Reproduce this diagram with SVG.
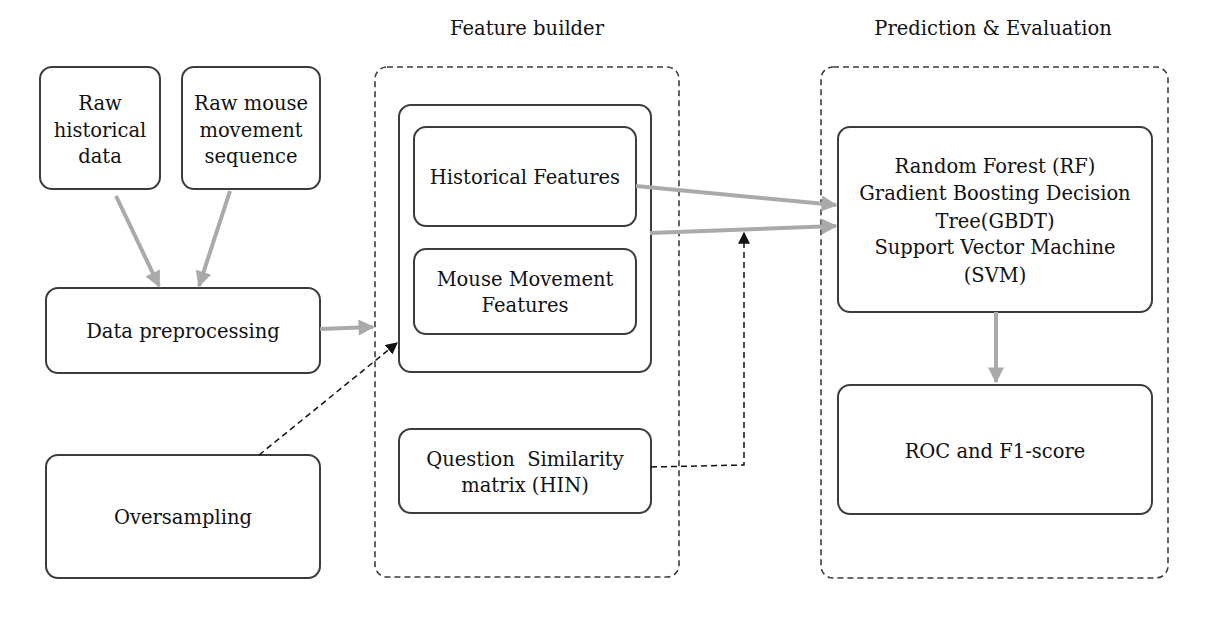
<svg xmlns="http://www.w3.org/2000/svg" width="1228" height="628" viewBox="0 0 1228 628">
<style>
.box{fill:#fff;stroke:#3c3c3c;stroke-width:2}
.grp{fill:none;stroke:#3c3c3c;stroke-width:1.6;stroke-dasharray:6,4}
text{font-family:"DejaVu Serif","Liberation Serif",serif;font-size:19.5px;fill:#111;text-anchor:middle}
.g{fill:none;stroke:#aaa;stroke-width:4}
.d{fill:none;stroke:#111;stroke-width:1.5;stroke-dasharray:6,4}
</style>
<defs>
<marker id="ga" viewBox="0 0 10 10" refX="9" refY="5" markerWidth="4.5" markerHeight="4" markerUnits="strokeWidth" orient="auto"><path d="M0,0 L10,5 L0,10 z" fill="#aaa"/></marker>
<marker id="ba" viewBox="0 0 10 10" refX="9" refY="5" markerWidth="8" markerHeight="8" markerUnits="strokeWidth" orient="auto"><path d="M0,0 L10,5 L0,10 z" fill="#111"/></marker>
</defs>
<rect width="1228" height="628" fill="#fff"/>
<g id="group-feature-builder">
<rect class="grp" x="375" y="67" width="304" height="510" rx="12"/>
<text x="527" y="35">Feature builder</text>
</g>
<g id="group-prediction">
<rect class="grp" x="821" y="67" width="347" height="511" rx="12"/>
<text x="993" y="35">Prediction &amp; Evaluation</text>
</g>
<g id="raw-historical">
<rect class="box" x="40" y="67" width="120" height="122" rx="12"/>
<text x="100" y="110">Raw</text><text x="100" y="137">historical</text><text x="100" y="163">data</text>
</g>
<g id="raw-mouse">
<rect class="box" x="182" y="67" width="138" height="122" rx="12"/>
<text x="251" y="110">Raw mouse</text><text x="251" y="137">movement</text><text x="251" y="163">sequence</text>
</g>
<g id="data-preprocessing">
<rect class="box" x="46" y="288" width="274" height="85" rx="12"/>
<text x="183" y="338">Data preprocessing</text>
</g>
<g id="oversampling">
<rect class="box" x="46" y="455" width="274" height="123" rx="12"/>
<text x="183" y="524">Oversampling</text>
</g>
<g id="features">
<rect class="box" x="399" y="105" width="252" height="267" rx="12"/>
</g>
<g id="historical-features">
<rect class="box" x="414" y="127" width="222" height="99" rx="12"/>
<text x="525" y="184">Historical Features</text>
</g>
<g id="mouse-features">
<rect class="box" x="414" y="249" width="222" height="85" rx="12"/>
<text x="525" y="286">Mouse Movement</text><text x="525" y="312">Features</text>
</g>
<g id="question-similarity">
<rect class="box" x="399" y="429" width="252" height="84" rx="12"/>
<text x="525" y="466" xml:space="preserve">Question  Similarity</text><text x="525" y="492">matrix (HIN)</text>
</g>
<g id="models">
<rect class="box" x="838" y="127" width="314" height="185" rx="12"/>
<text x="995" y="173">Random Forest (RF)</text>
<text x="995" y="200">Gradient Boosting Decision</text>
<text x="995" y="228">Tree(GBDT)</text>
<text x="995" y="254">Support Vector Machine</text>
<text x="995" y="282">(SVM)</text>
</g>
<g id="roc">
<rect class="box" x="838" y="385" width="314" height="129" rx="12"/>
<text x="995" y="458">ROC and F1-score</text>
</g>
<g id="connectors">
<line class="g" x1="116" y1="196" x2="159" y2="286" marker-end="url(#ga)"/>
<line class="g" x1="230" y1="191" x2="199" y2="286" marker-end="url(#ga)"/>
<line class="g" x1="320" y1="329" x2="373" y2="327" marker-end="url(#ga)"/>
<line class="g" x1="636" y1="186" x2="836" y2="205" marker-end="url(#ga)"/>
<line class="g" x1="650" y1="233" x2="836" y2="226" marker-end="url(#ga)"/>
<line class="g" x1="996" y1="312" x2="996" y2="382" marker-end="url(#ga)"/>
<line class="d" x1="259" y1="455" x2="397" y2="343" marker-end="url(#ba)"/>
<polyline class="d" points="651,467 744,465 744,233" marker-end="url(#ba)"/>
</g>
</svg>
